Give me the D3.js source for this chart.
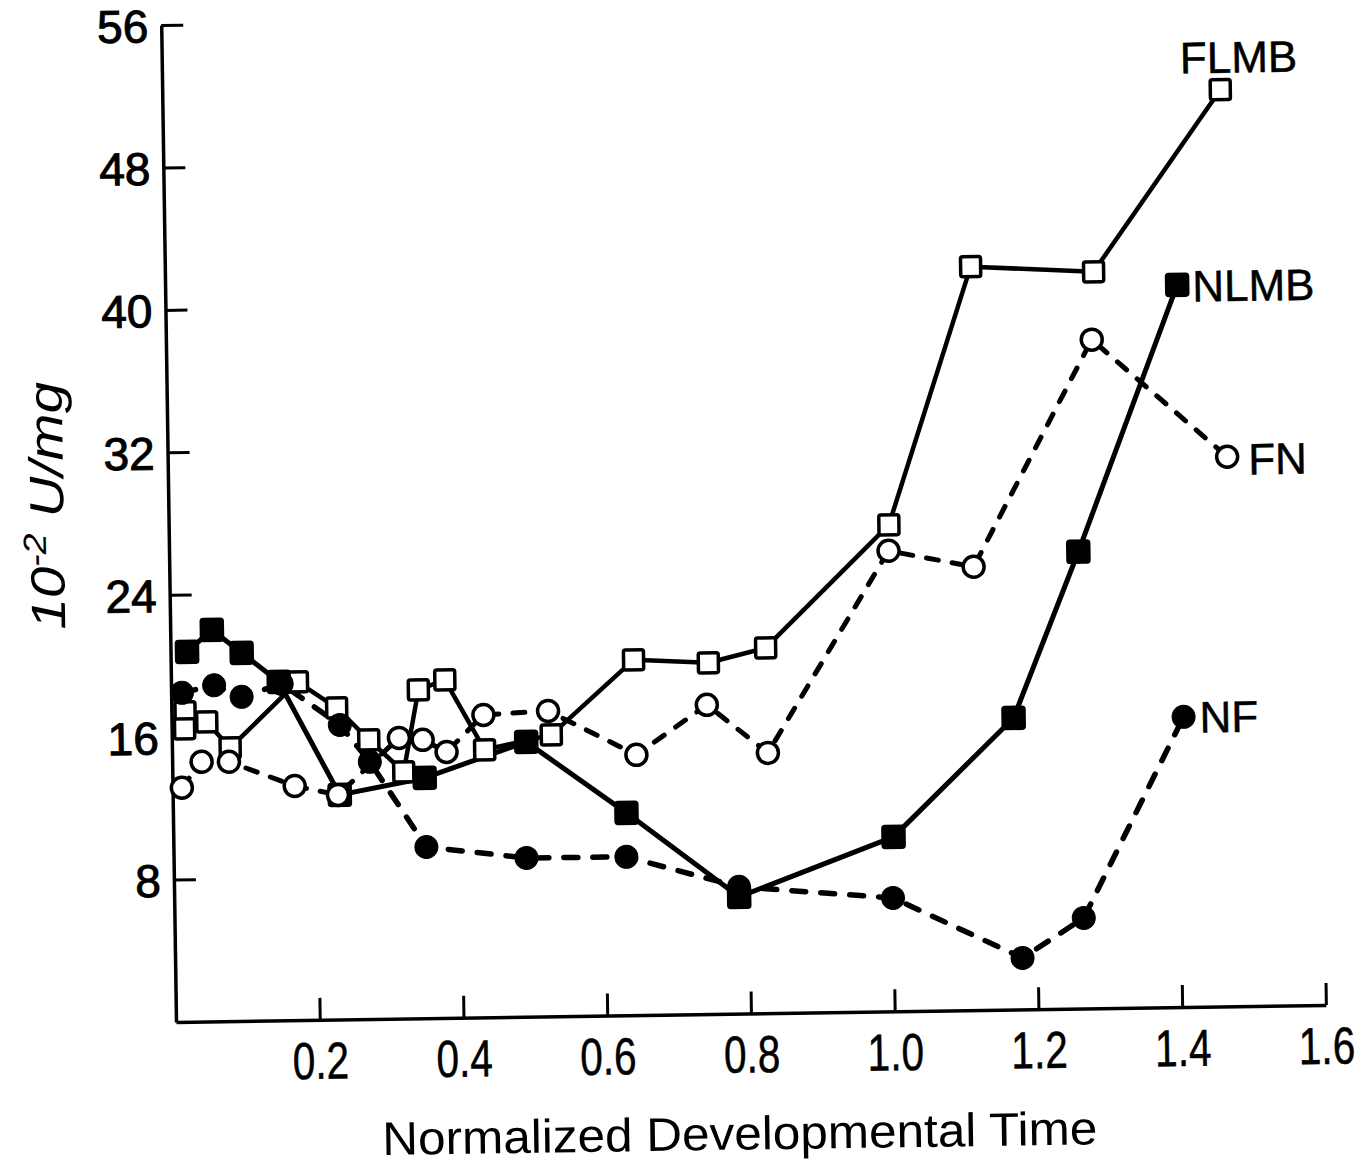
<!DOCTYPE html>
<html>
<head>
<meta charset="utf-8">
<script src="https://cdn.jsdelivr.net/npm/d3@7/dist/d3.min.js"></script>
<style>
  html, body { margin: 0; padding: 0; background: #fff; }
  svg { display: block; }
  text { font-family: "Liberation Sans", Arial, sans-serif; fill: #000; }
</style>
</head>
<body>
<svg id="chart" width="1360" height="1166"></svg>
<script>
// ---------- data ----------
const xTicks = [0.2, 0.4, 0.6, 0.8, 1.0, 1.2, 1.4, 1.6];
const xTickLabels = ["0.2", "0.4", "0.6", "0.8", "1.0", "1.2", "1.4", "1.6"];
const yTicks = [8, 16, 24, 32, 40, 48, 56];
const yTickLabels = ["8", "16", "24", "32", "40", "48", "56"];

const flmbX = [0.019, 0.018, 0.049, 0.081, 0.176, 0.230, 0.274, 0.322, 0.344, 0.381, 0.435, 0.528, 0.644, 0.748, 0.828, 1.002, 1.121, 1.292, 1.472];
const flmbY = [17.41, 16.46, 16.83, 15.35, 19.0, 17.51, 15.69, 13.86, 18.45, 18.99, 15.03, 15.81, 19.96, 19.73, 20.52, 27.33, 41.76, 41.37, 51.49];

const nlmbX = [0.023, 0.058, 0.099, 0.150, 0.2325, 0.351, 0.493, 0.631, 0.786, 1.002, 1.1715, 1.265, 1.408];
const nlmbY = [20.78, 21.99, 20.68, 19.02, 12.62, 13.50, 15.44, 11.37, 6.56, 9.80, 16.38, 25.66, 40.57];

const fnX = [0.013, 0.041, 0.079, 0.170, 0.230, 0.316, 0.349, 0.382, 0.434, 0.524, 0.646, 0.745, 0.829, 1.001, 1.119, 1.288, 1.474];
const fnY = [13.15, 14.59, 14.57, 13.16, 12.62, 15.77, 15.64, 14.94, 16.99, 17.16, 14.62, 17.37, 14.62, 25.87, 24.90, 37.56, 30.87];

const nfX = [0.015, 0.060, 0.098, 0.154, 0.234, 0.275, 0.352, 0.491, 0.630, 0.786, 1.0, 1.179, 1.265, 1.408];
const nfY = [18.48, 18.88, 18.21, 18.9, 16.55, 14.45, 9.62, 8.92, 8.90, 7.12, 6.37, 2.89, 5.09, 16.30];

const seriesNames = ["FLMB", "NLMB", "FN", "NF"];
const xTitle = "Normalized Developmental Time";

// ---------- styles ----------
const styles = {
  FLMB: { marker: "square", filled: false, width: 4.5, dash: null,    lab: [ -40, -17, "start"] },
  NLMB: { marker: "square", filled: true,  width: 5,   dash: null,    lab: [ 15,  17, "start"] },
  FN:   { marker: "circle", filled: false, width: 5,   dash: "12,14", lab: [ 21,  18, "start"] },
  NF:   { marker: "circle", filled: true,  width: 5.5, dash: "14,15", lab: [ 16,  16, "start"] }
};

const series = [
  { name: "FLMB", xs: flmbX, ys: flmbY },
  { name: "NLMB", xs: nlmbX, ys: nlmbY },
  { name: "FN",   xs: fnX,   ys: fnY },
  { name: "NF",   xs: nfX,   ys: nfY }
].map(s => ({ name: s.name, pts: s.xs.map((v, i) => [v, s.ys[i]]) }));

// ---------- scales ----------
const x = d3.scaleLinear().domain([0, 1.6]).range([176, 1326]);
const y = d3.scaleLinear().domain([0, 56]).range([1022, 25]);

const svg = d3.select("#chart");
svg.append("rect").attr("width", 1360).attr("height", 1166).attr("fill", "#fff");

// the scanned figure is slightly rotated
const g = svg.append("g").attr("transform", `rotate(-0.85, ${x(0)}, ${y(0)})`);

// ---------- axes ----------
const yAxis = d3.axisLeft(y).tickValues(yTicks)
  .tickFormat((d, i) => yTickLabels[i])
  .tickSizeInner(-22).tickSizeOuter(0).tickPadding(13);
const gy = g.append("g").attr("transform", `translate(${x(0)},0)`).call(yAxis);
gy.select(".domain").attr("stroke", "#000").attr("stroke-width", 3.5);
gy.selectAll(".tick line").attr("stroke", "#000").attr("stroke-width", 3);
gy.selectAll(".tick text")
  .attr("font-size", 46).attr("font-family", "'Liberation Sans', Arial, sans-serif")
  .attr("fill", "#000").attr("stroke", "#000").attr("stroke-width", 1)
  .attr("dy", "0.36em");

const xAxis = d3.axisBottom(x).tickValues(xTicks)
  .tickFormat((d, i) => xTickLabels[i])
  .tickSizeInner(-22).tickSizeOuter(0).tickPadding(22);
const gx = g.append("g").attr("transform", `translate(0,${y(0)})`).call(xAxis);
gx.select(".domain").attr("stroke", "#000").attr("stroke-width", 3.5);
gx.selectAll(".tick line").attr("stroke", "#000").attr("stroke-width", 3);
gx.selectAll(".tick text")
  .attr("font-size", 52).attr("font-family", "'Liberation Sans', Arial, sans-serif")
  .attr("fill", "#000").attr("stroke", "#000").attr("stroke-width", 0.5)
  .attr("transform", "scale(0.78,1)");

// axis titles
g.append("text")
  .attr("x", 738).attr("y", 1158)
  .attr("text-anchor", "middle")
  .attr("font-size", 47)
  .attr("textLength", 715).attr("lengthAdjust", "spacingAndGlyphs")
  .text(xTitle);

const yt = g.append("text")
  .attr("transform", "translate(71,504) rotate(-90)")
  .attr("text-anchor", "middle")
  .attr("font-size", 48)
  .attr("font-style", "italic")
  .attr("textLength", 248).attr("lengthAdjust", "spacingAndGlyphs");
yt.append("tspan").text("10");
yt.append("tspan").attr("font-size", 32).attr("dy", -18).text("-2");
yt.append("tspan").attr("dy", 18).text(" U/mg");

// ---------- lines ----------
const line = d3.line().x(d => x(d[0])).y(d => y(d[1]));
series.forEach(s => {
  const st = styles[s.name];
  g.append("path")
    .datum(s.pts)
    .attr("d", line)
    .attr("fill", "none")
    .attr("stroke", "#000")
    .attr("stroke-width", st.width)
    .attr("stroke-linejoin", "round")
    .attr("stroke-linecap", "round")
    .attr("stroke-dasharray", st.dash);
});

// ---------- markers ----------
series.forEach(s => {
  const st = styles[s.name];
  const mg = g.append("g");
  if (st.marker === "square") {
    const side = st.filled ? 21 : 20;
    mg.selectAll("rect").data(s.pts).join("rect")
      .attr("x", d => x(d[0]) - side / 2)
      .attr("y", d => y(d[1]) - side / 2)
      .attr("width", side).attr("height", side)
      .attr("rx", 2)
      .attr("fill", st.filled ? "#000" : "#fff")
      .attr("stroke", "#000").attr("stroke-width", 3.5);
  } else {
    mg.selectAll("circle").data(s.pts).join("circle")
      .attr("cx", d => x(d[0]))
      .attr("cy", d => y(d[1]))
      .attr("r", st.filled ? 11.5 : 10.5)
      .attr("fill", st.filled ? "#000" : "#fff")
      .attr("stroke", "#000").attr("stroke-width", st.filled ? 1 : 3.5);
  }
});

// ---------- series labels ----------
series.forEach(s => {
  const st = styles[s.name];
  const last = s.pts[s.pts.length - 1];
  g.append("text")
    .attr("x", x(last[0]) + st.lab[0])
    .attr("y", y(last[1]) + st.lab[1])
    .attr("text-anchor", st.lab[2])
    .attr("font-size", 44)
    .attr("stroke", "#000").attr("stroke-width", 0.5)
    .text(s.name);
});
</script>
</body>
</html>
